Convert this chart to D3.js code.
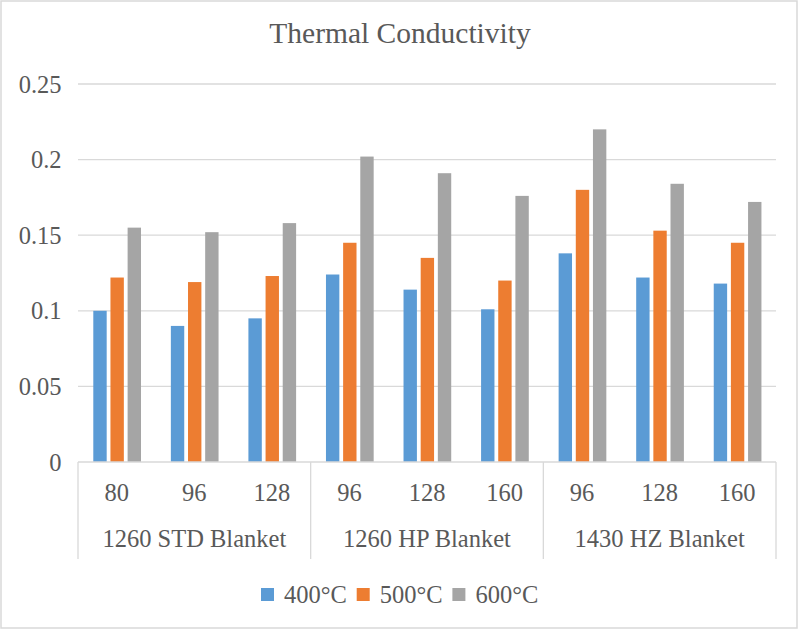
<!DOCTYPE html>
<html><head><meta charset="utf-8">
<script src="https://cdn.jsdelivr.net/npm/d3@7"></script>
<style>body{margin:0;background:#fff}svg{display:block}text{font-family:"Liberation Serif","Times New Roman",serif;fill:#595959}</style>
</head><body>
<script>
const groups = ["1260 STD Blanket","1260 HP Blanket","1430 HZ Blanket"];
const densities = ["80","96","128","96","128","160","96","128","160"];
const groupOf = [0,0,0,1,1,1,2,2,2];
const seriesNames = ["400°C","500°C","600°C"];
const s400 = [0.100,0.090,0.095,0.124,0.114,0.101,0.138,0.122,0.118];
const s500 = [0.122,0.119,0.123,0.145,0.135,0.120,0.180,0.153,0.145];
const s600 = [0.155,0.152,0.158,0.202,0.191,0.176,0.220,0.184,0.172];
const yTicks = [0,0.05,0.1,0.15,0.2,0.25];
const yTickLabels = ["0","0.05","0.1","0.15","0.2","0.25"];
const colors = ["#5B9BD5","#ED7D31","#A5A5A5"];

const W=800,H=631;
const svg=d3.select("body").append("svg").attr("width",W).attr("height",H);
svg.append("rect").attr("x",1).attr("y",1).attr("width",796).attr("height",627)
  .attr("fill","#fff").attr("stroke","#D9D9D9").attr("stroke-width",1.5);

const x0=78,x1=776,yB=462,yT=84;
const x=d3.scaleBand().domain(d3.range(densities.length)).range([x0,x1]).padding(0);
const xs=d3.scaleBand().domain(d3.range(3)).range([15.3,63]).paddingInner(0.22).paddingOuter(0);
const y=d3.scaleLinear().domain([0,0.25]).range([yB,yT]);

svg.append("text").attr("x",400).attr("y",43).attr("text-anchor","middle")
  .style("font-size","29.5px").text("Thermal Conductivity");

svg.append("g").selectAll("line").data(yTicks.filter(d=>d>0)).join("line")
  .attr("x1",x0).attr("x2",x1).attr("y1",d=>y(d)).attr("y2",d=>y(d))
  .attr("stroke","#D9D9D9").attr("stroke-width",1.3);

svg.append("g").selectAll("text").data(yTicks).join("text")
  .attr("x",61.5).attr("y",d=>y(d)).attr("dy","0.35em").attr("text-anchor","end")
  .style("font-size","24.5px").text((d,i)=>yTickLabels[i]);

const series=[s400,s500,s600];
series.forEach((vals,si)=>{
  svg.append("g").selectAll("rect").data(vals).join("rect")
    .attr("x",(d,i)=>x(i)+xs(si)).attr("width",xs.bandwidth())
    .attr("y",d=>y(d)).attr("height",d=>y(0)-y(d)).attr("fill",colors[si]);
});

svg.append("line").attr("x1",x0).attr("x2",x1).attr("y1",yB).attr("y2",yB)
  .attr("stroke","#D9D9D9").attr("stroke-width",1.3);
const seps=[0,3,6,9].map(i=> i<9 ? x(i) : x1);
svg.append("g").selectAll("line").data(seps).join("line")
  .attr("x1",d=>d).attr("x2",d=>d).attr("y1",yB).attr("y2",559)
  .attr("stroke","#D9D9D9").attr("stroke-width",1.3);

svg.append("g").selectAll("text").data(densities).join("text")
  .attr("x",(d,i)=>x(i)+x.bandwidth()/2).attr("y",501).attr("text-anchor","middle")
  .style("font-size","24.5px").text(d=>d);
svg.append("g").selectAll("text").data(groups).join("text")
  .attr("x",(d,gi)=>{const idx=d3.range(9).filter(i=>groupOf[i]===gi);return (x(idx[0])+x(idx[idx.length-1])+x.bandwidth())/2;})
  .attr("y",547).attr("text-anchor","middle").style("font-size","24.5px").text(d=>d);

const lg=svg.append("g");
seriesNames.forEach((n,i)=>{
  const lx=261+i*95.7;
  lg.append("rect").attr("x",lx).attr("y",588).attr("width",13).attr("height",13).attr("fill",colors[i]);
  lg.append("text").attr("x",lx+23).attr("y",603).style("font-size","24.5px").text(n);
});
</script>
</body></html>
